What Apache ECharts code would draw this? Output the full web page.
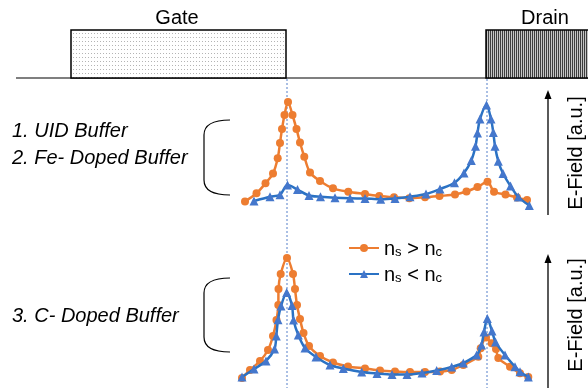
<!DOCTYPE html>
<html>
<head>
<meta charset="utf-8">
<script src="https://cdn.jsdelivr.net/npm/echarts@6/dist/echarts.min.js"></script>
<style>
  html, body { margin: 0; padding: 0; background: #fff; }
  #c { width: 588px; height: 388px; }
</style>
</head>
<body>
<div id="c"></div>
<script>
// Position along the channel (a.u.) and field strength (a.u.)
// Upper panel: UID / Fe-doped buffer
const upperHighNs = [[5,8.5],[16.5,16.7],[25.5,26.7],[33,36.5],[37.7,51.7],[40,67],[42,81],[44.5,95],[48,108],
  [52.5,95],[56.5,81],[60,67.5],[64.3,53.3],[70,37.5],[80,29],[93,21.7],[108.3,18.3],[125,16],[139.3,14],
  [154,12.7],[169.3,11.7],[185,12.7],[199.5,14],[215,15.5],[226.5,18.5],[237.5,23],[247.5,28.3],[254,18.3],
  [265.5,15.5],[277,12.5],[287,10]];
const upperLowNs = [[14,9],[30,13.3],[40,15.3],[47.5,25],[57.5,20.5],[69,14.5],[80.5,13.3],[95,12.3],[110,11.7],
  [125,11.5],[140.7,10.7],[155,11.5],[170,13.3],[186,16],[200,21],[214.5,27.3],[224,37],[231.3,49.5],
  [235.5,63.7],[237.5,77],[240,91],[246.5,105],[251,91],[253.3,77.5],[255,63.7],[258.3,48.7],[263,36.5],
  [270.5,24],[278.3,13],[289.3,4.5]];
// Lower panel: C-doped buffer
const lowerHighNs = [[2,7],[10,15],[20,24],[28,35],[33,49],[36.5,65],[38.3,80],[38.5,96],[40.7,111],[47,127],
  [53,111],[55,96],[57,80],[60,66],[63.5,52],[69,39],[80,29],[93,22.5],[108,18.5],[125,16.5],[140,14.5],
  [155,13.5],[170,13],[185,13],[200,13.5],[211.7,15],[223.3,20],[238.3,28.3],[240.7,36.7],[246,47.5],
  [251.7,41.7],[256,36],[258.3,27],[270,18.3],[280,11.7],[288.3,8]];
const lowerLowNs = [[2,8],[14,16],[26,24],[34.5,36],[36.3,49],[38,65.3],[41,79],[46.7,92.5],[52,79.5],[53.5,65],
  [58.3,50],[65,37],[76,28],[90,20],[103.3,16.5],[121.7,13],[137,11.5],[152,10.5],[167,10.5],[182,12],
  [196.7,14.5],[211.7,18],[223.3,22],[236.7,30],[241.5,40],[244,53],[247.3,66.5],[252,54],[255.5,43],
  [265,30],[275,18.3],[280,13.3],[288.3,8]];

// Device edges on the same position scale
const gateEdge = 47;
const drainEdge = 247;

const seriesNames = ['ns > nc', 'ns < nc'];
const ORANGE = '#ED7D31';
const BLUE_LINE = '#2A72C4';
const BLUE_MARK = '#4477CC';
const FONT = '"Liberation Sans", Arial, sans-serif';

function pattern(w, h, bg, dots, color) {
  const c = document.createElement('canvas');
  c.width = w; c.height = h;
  const g = c.getContext('2d');
  g.fillStyle = bg; g.fillRect(0, 0, w, h);
  g.fillStyle = color;
  dots.forEach(([x, y]) => g.fillRect(x, y, 1, 1));
  return { image: c, repeat: 'repeat' };
}

function curve(name, data, idx, isHigh) {
  return {
    type: 'line', name, data,
    xAxisIndex: idx, yAxisIndex: idx,
    smooth: 0.3,
    symbol: isHigh ? 'circle' : 'triangle',
    symbolSize: isHigh ? 8 : 9,
    lineStyle: { color: isHigh ? ORANGE : BLUE_LINE, width: 2.5 },
    itemStyle: { color: isHigh ? ORANGE : BLUE_MARK },
    z: isHigh ? 3 : 4,
    animation: false
  };
}

const chart = echarts.init(document.getElementById('c'));
chart.setOption({
  animation: false,
  grid: [
    { left: 240, width: 300, top: 95, height: 115 },
    { left: 240, width: 300, top: 240, height: 145 }
  ],
  xAxis: [
    { gridIndex: 0, type: 'value', min: 0, max: 300, show: false },
    { gridIndex: 1, type: 'value', min: 0, max: 300, show: false }
  ],
  yAxis: [
    { gridIndex: 0, type: 'value', min: 0, max: 115, show: false },
    { gridIndex: 1, type: 'value', min: 0, max: 145, show: false }
  ],
  legend: {
    data: seriesNames,
    orient: 'vertical',
    left: 343, top: 234,
    itemWidth: 30, itemHeight: 10, itemGap: 6,
    formatter: n => n === seriesNames[0] ? '{n|n}{s|s}{n| > n}{s|c}' : '{n|n}{s|s}{n| < n}{s|c}',
    textStyle: {
      rich: {
        n: { fontSize: 20, fontFamily: FONT, color: '#000', lineHeight: 22, verticalAlign: 'bottom' },
        s: { fontSize: 13, fontFamily: FONT, color: '#000', lineHeight: 10, verticalAlign: 'bottom' }
      }
    }
  },
  series: [
    curve(seriesNames[0], upperHighNs, 0, true),
    curve(seriesNames[1], upperLowNs, 0, false),
    curve(seriesNames[0], lowerHighNs, 1, true),
    curve(seriesNames[1], lowerLowNs, 1, false)
  ]
});

const gx = chart.convertToPixel({ gridIndex: 0 }, [gateEdge, 0])[0];
const dx = chart.convertToPixel({ gridIndex: 0 }, [drainEdge, 0])[0];
const txt = (x, y, s, font, align, rotation) => ({
  type: 'text', x, y, z: 10, rotation: rotation || 0,
  style: { text: s, font: font || ('20px ' + FONT), fill: '#000', align: align || 'center', verticalAlign: 'middle' }
});
const BRACKET_STYLE = { fill: 'none', stroke: '#000', lineWidth: 1.2 };
const bracket = (top, bottom) => [
  { type: 'bezierCurve', z: 10, style: BRACKET_STYLE,
    shape: { x1: 230, y1: top, cpx1: 212, cpy1: top, cpx2: 204, cpy2: top + 5, x2: 204, y2: top + 15 } },
  { type: 'line', z: 10, style: BRACKET_STYLE, shape: { x1: 204, y1: top + 15, x2: 204, y2: bottom - 15 } },
  { type: 'bezierCurve', z: 10, style: BRACKET_STYLE,
    shape: { x1: 204, y1: bottom - 15, cpx1: 204, cpy1: bottom - 5, cpx2: 212, cpy2: bottom, x2: 230, y2: bottom } }
];
const arrow = (x, tip, end) => [
  { type: 'line', z: 10, shape: { x1: x, y1: tip + 6, x2: x, y2: end }, style: { stroke: '#000', lineWidth: 1.3 } },
  { type: 'polygon', z: 10, shape: { points: [[x, tip], [x - 3.5, tip + 9], [x + 3.5, tip + 9]] }, style: { fill: '#000' } }
];
const ITALIC = 'italic 20px ' + FONT;

chart.setOption({
  graphic: [
    // substrate surface
    { type: 'line', z: 5, shape: { x1: 16, y1: 78, x2: 588, y2: 78 }, style: { stroke: '#7f7f7f', lineWidth: 2 } },
    // gate and drain contacts
    { type: 'rect', z: 6, shape: { x: 71, y: 30, width: gx - 72, height: 48 },
      style: { fill: pattern(3, 4, '#fff', [[1, 1]], '#b4b4b4'), stroke: '#000', lineWidth: 1.5 } },
    { type: 'rect', z: 6, shape: { x: dx - 1, y: 30, width: 120, height: 48 },
      style: { fill: pattern(2, 2, '#c4c4c4', [[0, 0], [0, 1]], '#3c3c3c'), stroke: '#000', lineWidth: 1.5 } },
    txt(177, 18, 'Gate'),
    txt(545, 18, 'Drain'),
    // gate / drain edge guides
    { type: 'line', z: 1, shape: { x1: gx, y1: 79, x2: gx, y2: 388 }, style: { stroke: '#8eaadb', lineWidth: 1.5, lineDash: [2, 2] } },
    { type: 'line', z: 1, shape: { x1: dx, y1: 79, x2: dx, y2: 388 }, style: { stroke: '#8eaadb', lineWidth: 1.5, lineDash: [2, 2] } },
    // buffer labels
    txt(12, 131, '1. UID Buffer', ITALIC, 'left'),
    txt(12, 158, '2. Fe- Doped Buffer', ITALIC, 'left'),
    txt(12, 316, '3. C- Doped Buffer', ITALIC, 'left'),
    ...bracket(120, 195),
    ...bracket(278, 352),
    // field axes
    ...arrow(548, 90, 215),
    ...arrow(548, 254, 388),
    txt(576, 153, 'E-Field [a.u.]', null, 'center', Math.PI / 2),
    txt(576, 315, 'E-Field [a.u.]', null, 'center', Math.PI / 2)
  ]
});
</script>
</body>
</html>
